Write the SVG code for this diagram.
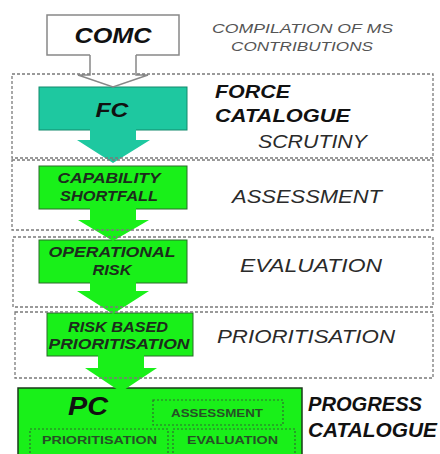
<svg xmlns="http://www.w3.org/2000/svg" width="440" height="454" viewBox="0 0 440 454">
<style>
.bi{font-family:"Liberation Sans",Arial,sans-serif;font-weight:bold;font-style:italic}
.it{font-family:"Liberation Sans",Arial,sans-serif;font-style:italic}
.sm{font-family:"Liberation Sans",Arial,sans-serif;font-weight:bold;font-size:10.5px;fill:#265026}
.grn{fill:#19f019;stroke:#2a6a2a;stroke-width:1}
.teal{fill:#1ec8a0;stroke:#128a6c;stroke-width:1}
.stage{fill:none;stroke:#7a7a7a;stroke-width:1.3;stroke-dasharray:3 2}
.inner{fill:none;stroke:#2f6a2f;stroke-width:1.2;stroke-dasharray:2 2}
</style>
<rect width="440" height="454" fill="#fff"/>
<g id="nodes">
<g id="comc">
<path d="M90,55 H47 V15 H179 V55 H136" fill="#fff" stroke="#888" stroke-width="1.5"/>
<text class="bi" x="113" y="43" font-size="22" text-anchor="middle" textLength="77" lengthAdjust="spacingAndGlyphs" fill="#111">COMC</text>
</g>
<g id="fc">
<rect class="teal" x="39" y="87" width="148" height="43"/>
<text class="bi" x="112" y="117" font-size="21" text-anchor="middle" textLength="33" lengthAdjust="spacingAndGlyphs" fill="#111">FC</text>
</g>
<g id="capability">
<rect class="grn" x="39" y="166" width="148" height="43"/>
<text class="bi" x="109" y="183" font-size="14" text-anchor="middle" textLength="103" lengthAdjust="spacingAndGlyphs" fill="#1c2c1c">CAPABILITY</text>
<text class="bi" x="109" y="201" font-size="14" text-anchor="middle" textLength="98" lengthAdjust="spacingAndGlyphs" fill="#1c2c1c">SHORTFALL</text>
</g>
<g id="operational">
<rect class="grn" x="39" y="240" width="148" height="43"/>
<text class="bi" x="112" y="257" font-size="14" text-anchor="middle" textLength="127" lengthAdjust="spacingAndGlyphs" fill="#1c2c1c">OPERATIONAL</text>
<text class="bi" x="112" y="275" font-size="14" text-anchor="middle" textLength="39" lengthAdjust="spacingAndGlyphs" fill="#1c2c1c">RISK</text>
</g>
<g id="riskbased">
<rect class="grn" x="47" y="313" width="146" height="43"/>
<text class="bi" x="118" y="332" font-size="14" text-anchor="middle" textLength="100" lengthAdjust="spacingAndGlyphs" fill="#1c2c1c">RISK BASED</text>
<text class="bi" x="119" y="349" font-size="14" text-anchor="middle" textLength="141" lengthAdjust="spacingAndGlyphs" fill="#1c2c1c">PRIORITISATION</text>
</g>
<g id="pc">
<rect x="18" y="388" width="284" height="72" fill="#19f019" stroke="#1a3a1a" stroke-width="1.5"/>
<text class="bi" x="68" y="415" font-size="25" textLength="40" lengthAdjust="spacingAndGlyphs" fill="#111">PC</text>
<rect class="inner" x="153" y="400" width="130" height="25"/>
<rect class="inner" x="30" y="429" width="138" height="30"/>
<rect class="inner" x="173" y="429" width="122" height="30"/>
<text class="sm" x="171" y="417" textLength="92" lengthAdjust="spacingAndGlyphs">ASSESSMENT</text>
<text class="sm" x="42" y="444" textLength="115" lengthAdjust="spacingAndGlyphs">PRIORITISATION</text>
<text class="sm" x="187" y="444" textLength="91" lengthAdjust="spacingAndGlyphs">EVALUATION</text>
</g>
</g>
<g id="connectors">
<path d="M90,55 V75 H78 L113,87 L148,75 H136 V55" fill="#fff" stroke="#888" stroke-width="1.5"/>
<polygon points="90,129 136,129 136,140 150,140 113,163 77,140 90,140" fill="#1ec8a0"/>
<polygon points="90,208 136,208 136,220 149,220 113,241 78,220 90,220" fill="#19f019"/>
<polygon points="90,282 136,282 136,291 149,291 113,314 77,291 90,291" fill="#19f019"/>
<polygon points="98,355 144,355 144,368 157,368 121,392 85,368 98,368" fill="#19f019"/>
</g>
<g id="stages">
<rect class="stage" x="12" y="74" width="421" height="84"/>
<rect class="stage" x="12" y="160" width="421" height="70"/>
<rect class="stage" x="13" y="237" width="420" height="70"/>
<rect class="stage" x="15" y="312" width="418" height="66"/>
</g>
<g id="labels">
<text class="it" x="212" y="33" font-size="13.5" textLength="181" lengthAdjust="spacingAndGlyphs" fill="#555">COMPILATION OF MS</text>
<text class="it" x="231" y="51" font-size="13.5" textLength="142" lengthAdjust="spacingAndGlyphs" fill="#555">CONTRIBUTIONS</text>
<text class="bi" x="215" y="98" font-size="19" textLength="75" lengthAdjust="spacingAndGlyphs" fill="#111">FORCE</text>
<text class="bi" x="215" y="122" font-size="19" textLength="135" lengthAdjust="spacingAndGlyphs" fill="#111">CATALOGUE</text>
<text class="it" x="258" y="148" font-size="18" textLength="109" lengthAdjust="spacingAndGlyphs" fill="#2a2a2a">SCRUTINY</text>
<text class="it" x="232" y="203" font-size="19" textLength="150" lengthAdjust="spacingAndGlyphs" fill="#2a2a2a">ASSESSMENT</text>
<text class="it" x="240" y="272" font-size="19" textLength="142" lengthAdjust="spacingAndGlyphs" fill="#2a2a2a">EVALUATION</text>
<text class="it" x="217" y="343" font-size="19" textLength="178" lengthAdjust="spacingAndGlyphs" fill="#2a2a2a">PRIORITISATION</text>
<text class="bi" x="308" y="411" font-size="20" textLength="114" lengthAdjust="spacingAndGlyphs" fill="#111">PROGRESS</text>
<text class="bi" x="308" y="437" font-size="20" textLength="129" lengthAdjust="spacingAndGlyphs" fill="#111">CATALOGUE</text>
</g>
</svg>
